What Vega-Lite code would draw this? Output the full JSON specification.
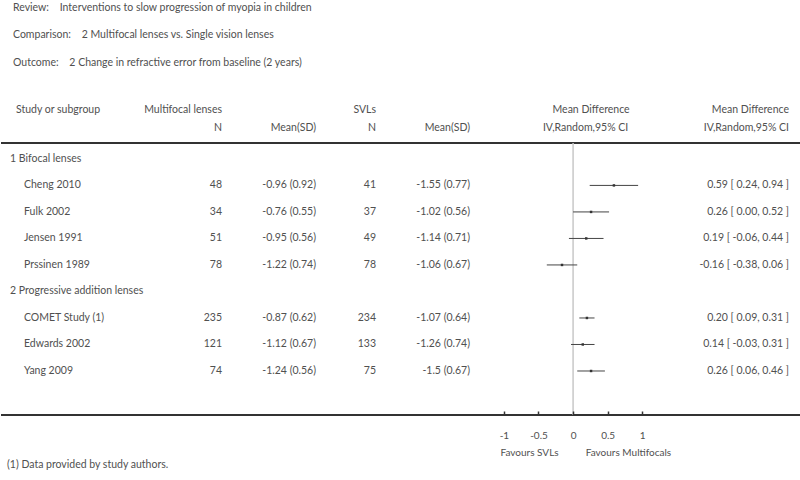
{
  "$schema": "https://vega.github.io/schema/vega-lite/v6.json",
  "background": "white",
  "padding": {"left": 0, "top": 3, "right": 0, "bottom": 0},
  "bounds": "flush",
  "spacing": 0,
  "config": {
    "view": {"stroke": null},
    "text": {"font": "Lato", "fontSize": 10.5, "color": "#505050", "baseline": "middle"},
    "rule": {"color": "#333"}
  },
  "datasets": {
    "t": [
      {"row": 0, "type": "group", "label": "1 Bifocal lenses"},
      {"row": 1, "type": "study", "label": "Cheng 2010", "n1": "48", "m1": "-0.96 (0.92)", "n2": "41", "m2": "-1.55 (0.77)", "md": 0.59, "lo": 0.24, "hi": 0.94, "ci": "0.59 [ 0.24, 0.94 ]"},
      {"row": 2, "type": "study", "label": "Fulk 2002", "n1": "34", "m1": "-0.76 (0.55)", "n2": "37", "m2": "-1.02 (0.56)", "md": 0.26, "lo": 0.0, "hi": 0.52, "ci": "0.26 [ 0.00, 0.52 ]"},
      {"row": 3, "type": "study", "label": "Jensen 1991", "n1": "51", "m1": "-0.95 (0.56)", "n2": "49", "m2": "-1.14 (0.71)", "md": 0.19, "lo": -0.06, "hi": 0.44, "ci": "0.19 [ -0.06, 0.44 ]"},
      {"row": 4, "type": "study", "label": "Prssinen 1989", "n1": "78", "m1": "-1.22 (0.74)", "n2": "78", "m2": "-1.06 (0.67)", "md": -0.16, "lo": -0.38, "hi": 0.06, "ci": "-0.16 [ -0.38, 0.06 ]"},
      {"row": 5, "type": "group", "label": "2 Progressive addition lenses"},
      {"row": 6, "type": "study", "label": "COMET Study (1)", "n1": "235", "m1": "-0.87 (0.62)", "n2": "234", "m2": "-1.07 (0.64)", "md": 0.2, "lo": 0.09, "hi": 0.31, "ci": "0.20 [ 0.09, 0.31 ]"},
      {"row": 7, "type": "study", "label": "Edwards 2002", "n1": "121", "m1": "-1.12 (0.67)", "n2": "133", "m2": "-1.26 (0.74)", "md": 0.14, "lo": -0.03, "hi": 0.31, "ci": "0.14 [ -0.03, 0.31 ]"},
      {"row": 8, "type": "study", "label": "Yang 2009", "n1": "74", "m1": "-1.24 (0.56)", "n2": "75", "m2": "-1.5 (0.67)", "md": 0.26, "lo": 0.06, "hi": 0.46, "ci": "0.26 [ 0.06, 0.46 ]"}
    ]
  },
  "hconcat": [
    {
      "width": 149, "height": 272,
      "data": {"name": "t"},
      "layer": [
        {"transform": [{"filter": "datum.row == 0"}], "mark": {"type": "rule", "strokeWidth": 2}, "encoding": {"x": {"value": 0}, "x2": {"value": "width"}, "y": {"datum": -0.6, "type": "quantitative", "scale": {"domain": [-0.6, 9.66], "nice": false, "zero": false, "reverse": true}, "axis": null}}},
        {"transform": [{"filter": "datum.row == 0"}], "mark": {"type": "rule", "strokeWidth": 2}, "encoding": {"x": {"value": 0}, "x2": {"value": "width"}, "y": {"datum": 9.66, "type": "quantitative", "axis": null}}},
        {"transform": [{"filter": "datum.type == 'group'"}], "mark": {"type": "text", "align": "left", "dx": 9}, "encoding": {"x": {"value": 0}, "y": {"field": "row", "type": "quantitative", "axis": null}, "text": {"field": "label"}}},
        {"transform": [{"filter": "datum.type == 'study'"}], "mark": {"type": "text", "align": "left", "dx": 23}, "encoding": {"x": {"value": 0}, "y": {"field": "row", "type": "quantitative", "axis": null}, "text": {"field": "label"}}},
        {"transform": [{"filter": "datum.row == 0"}], "mark": {"type": "text", "align": "left", "dx": 12, "text": "Review:\u00a0\u00a0\u00a0\u00a0Interventions to slow progression of myopia in children"}, "encoding": {"x": {"value": 0}, "y": {"datum": -5.685, "type": "quantitative", "axis": null}}},
        {"transform": [{"filter": "datum.row == 0"}], "mark": {"type": "text", "align": "left", "dx": 12, "text": "Comparison:\u00a0\u00a0\u00a0\u00a02 Multifocal lenses vs. Single vision lenses"}, "encoding": {"x": {"value": 0}, "y": {"datum": -4.67, "type": "quantitative", "axis": null}}},
        {"transform": [{"filter": "datum.row == 0"}], "mark": {"type": "text", "align": "left", "dx": 12, "text": "Outcome:\u00a0\u00a0\u00a0\u00a02 Change in refractive error from baseline (2 years)"}, "encoding": {"x": {"value": 0}, "y": {"datum": -3.61, "type": "quantitative", "axis": null}}},
        {"transform": [{"filter": "datum.row == 0"}], "mark": {"type": "text", "align": "left", "dx": 15, "text": "Study or subgroup"}, "encoding": {"x": {"value": 0}, "y": {"datum": -1.837, "type": "quantitative", "axis": null}}},
        {"transform": [{"filter": "datum.row == 0"}], "mark": {"type": "text", "align": "left", "dx": 6, "text": "(1) Data provided by study authors."}, "encoding": {"x": {"value": 0}, "y": {"datum": 11.55, "type": "quantitative", "axis": null}}}
      ]
    },
    {
      "width": 72, "height": 272,
      "data": {"name": "t"},
      "layer": [
        {"transform": [{"filter": "datum.row == 0"}], "mark": {"type": "rule", "strokeWidth": 2}, "encoding": {"x": {"value": 0}, "x2": {"value": "width"}, "y": {"datum": -0.6, "type": "quantitative", "scale": {"domain": [-0.6, 9.66], "nice": false, "zero": false, "reverse": true}, "axis": null}}},
        {"transform": [{"filter": "datum.row == 0"}], "mark": {"type": "rule", "strokeWidth": 2}, "encoding": {"x": {"value": 0}, "x2": {"value": "width"}, "y": {"datum": 9.66, "type": "quantitative", "axis": null}}},
        {"transform": [{"filter": "datum.type == 'study'"}], "mark": {"type": "text", "align": "right"}, "encoding": {"x": {"value": "width"}, "y": {"field": "row", "type": "quantitative", "axis": null}, "text": {"field": "n1", "type": "nominal"}}},
        {"transform": [{"filter": "datum.row == 0"}], "mark": {"type": "text", "align": "right", "text": "Multifocal lenses"}, "encoding": {"x": {"value": "width"}, "y": {"datum": -1.837, "type": "quantitative", "axis": null}}},
        {"transform": [{"filter": "datum.row == 0"}], "mark": {"type": "text", "align": "right", "text": "N"}, "encoding": {"x": {"value": "width"}, "y": {"datum": -1.158, "type": "quantitative", "axis": null}}}
      ]
    },
    {
      "width": 94, "height": 272,
      "data": {"name": "t"},
      "layer": [
        {"transform": [{"filter": "datum.row == 0"}], "mark": {"type": "rule", "strokeWidth": 2}, "encoding": {"x": {"value": 0}, "x2": {"value": "width"}, "y": {"datum": -0.6, "type": "quantitative", "scale": {"domain": [-0.6, 9.66], "nice": false, "zero": false, "reverse": true}, "axis": null}}},
        {"transform": [{"filter": "datum.row == 0"}], "mark": {"type": "rule", "strokeWidth": 2}, "encoding": {"x": {"value": 0}, "x2": {"value": "width"}, "y": {"datum": 9.66, "type": "quantitative", "axis": null}}},
        {"transform": [{"filter": "datum.type == 'study'"}], "mark": {"type": "text", "align": "right"}, "encoding": {"x": {"value": "width"}, "y": {"field": "row", "type": "quantitative", "axis": null}, "text": {"field": "m1", "type": "nominal"}}},
        {"transform": [{"filter": "datum.row == 0"}], "mark": {"type": "text", "align": "right", "text": "Mean(SD)"}, "encoding": {"x": {"value": "width"}, "y": {"datum": -1.158, "type": "quantitative", "axis": null}}}
      ]
    },
    {
      "width": 60, "height": 272,
      "data": {"name": "t"},
      "layer": [
        {"transform": [{"filter": "datum.row == 0"}], "mark": {"type": "rule", "strokeWidth": 2}, "encoding": {"x": {"value": 0}, "x2": {"value": "width"}, "y": {"datum": -0.6, "type": "quantitative", "scale": {"domain": [-0.6, 9.66], "nice": false, "zero": false, "reverse": true}, "axis": null}}},
        {"transform": [{"filter": "datum.row == 0"}], "mark": {"type": "rule", "strokeWidth": 2}, "encoding": {"x": {"value": 0}, "x2": {"value": "width"}, "y": {"datum": 9.66, "type": "quantitative", "axis": null}}},
        {"transform": [{"filter": "datum.type == 'study'"}], "mark": {"type": "text", "align": "right"}, "encoding": {"x": {"value": "width"}, "y": {"field": "row", "type": "quantitative", "axis": null}, "text": {"field": "n2", "type": "nominal"}}},
        {"transform": [{"filter": "datum.row == 0"}], "mark": {"type": "text", "align": "right", "text": "SVLs"}, "encoding": {"x": {"value": "width"}, "y": {"datum": -1.837, "type": "quantitative", "axis": null}}},
        {"transform": [{"filter": "datum.row == 0"}], "mark": {"type": "text", "align": "right", "text": "N"}, "encoding": {"x": {"value": "width"}, "y": {"datum": -1.158, "type": "quantitative", "axis": null}}}
      ]
    },
    {
      "width": 94, "height": 272,
      "data": {"name": "t"},
      "layer": [
        {"transform": [{"filter": "datum.row == 0"}], "mark": {"type": "rule", "strokeWidth": 2}, "encoding": {"x": {"value": 0}, "x2": {"value": "width"}, "y": {"datum": -0.6, "type": "quantitative", "scale": {"domain": [-0.6, 9.66], "nice": false, "zero": false, "reverse": true}, "axis": null}}},
        {"transform": [{"filter": "datum.row == 0"}], "mark": {"type": "rule", "strokeWidth": 2}, "encoding": {"x": {"value": 0}, "x2": {"value": "width"}, "y": {"datum": 9.66, "type": "quantitative", "axis": null}}},
        {"transform": [{"filter": "datum.type == 'study'"}], "mark": {"type": "text", "align": "right"}, "encoding": {"x": {"value": "width"}, "y": {"field": "row", "type": "quantitative", "axis": null}, "text": {"field": "m2", "type": "nominal"}}},
        {"transform": [{"filter": "datum.row == 0"}], "mark": {"type": "text", "align": "right", "text": "Mean(SD)"}, "encoding": {"x": {"value": "width"}, "y": {"datum": -1.158, "type": "quantitative", "axis": null}}}
      ]
    },
    {
      "width": 194, "height": 272,
      "data": {"name": "t"},
      "layer": [
        {"transform": [{"filter": "datum.row == 0"}], "mark": {"type": "rule", "strokeWidth": 2}, "encoding": {"x": {"value": 0}, "x2": {"value": "width"}, "y": {"datum": -0.6, "type": "quantitative", "scale": {"domain": [-0.6, 9.66], "nice": false, "zero": false, "reverse": true}, "axis": null}}},
        {"transform": [{"filter": "datum.row == 0"}], "mark": {"type": "rule", "strokeWidth": 2}, "encoding": {"x": {"value": 0}, "x2": {"value": "width"}, "y": {"datum": 9.66, "type": "quantitative", "axis": null}}},
        {"transform": [{"filter": "datum.row == 0"}], "mark": {"type": "rule", "color": "#c8c8c8", "strokeWidth": 1.5}, "encoding": {"x": {"datum": 0, "type": "quantitative", "title": null, "scale": {"domain": [-1.49, 1.314], "nice": false, "zero": false}}, "y": {"datum": -0.6, "type": "quantitative", "axis": null}, "y2": {"datum": 9.66}}},
        {"transform": [{"filter": "datum.type == 'study'"}], "mark": {"type": "rule", "color": "#444", "strokeWidth": 1}, "encoding": {
          "x": {"field": "lo", "type": "quantitative", "title": null,
            "axis": {"orient": "bottom", "offset": -4, "values": [-1, -0.5, 0, 0.5, 1], "labelExpr": "'' + datum.value", "domain": false, "grid": false, "ticks": true, "tickSize": 4, "tickColor": "#333", "tickWidth": 1.5, "labelPadding": 15, "labelFontSize": 10, "labelColor": "#505050", "labelFont": "Lato", "title": null, "zindex": 1}},
          "x2": {"field": "hi"},
          "y": {"field": "row", "type": "quantitative", "axis": null}}},
        {"transform": [{"filter": "datum.type == 'study'"}], "mark": {"type": "square", "color": "#333", "size": 6, "opacity": 1}, "encoding": {"x": {"field": "md", "type": "quantitative", "title": null}, "y": {"field": "row", "type": "quantitative", "axis": null}}},
        {"transform": [{"filter": "datum.row == 0"}], "mark": {"type": "text", "align": "center", "text": "Mean Difference"}, "encoding": {"x": {"datum": 0.26, "type": "quantitative", "title": null}, "y": {"datum": -1.837, "type": "quantitative", "axis": null}}},
        {"transform": [{"filter": "datum.row == 0"}], "mark": {"type": "text", "align": "center", "text": "IV,Random,95% CI"}, "encoding": {"x": {"datum": 0.18, "type": "quantitative", "title": null}, "y": {"datum": -1.158, "type": "quantitative", "axis": null}}},
        {"transform": [{"filter": "datum.row == 0"}], "mark": {"type": "text", "align": "center", "fontSize": 10, "text": "Favours SVLs"}, "encoding": {"x": {"datum": -0.63, "type": "quantitative", "title": null}, "y": {"datum": 11.1, "type": "quantitative", "axis": null}}},
        {"transform": [{"filter": "datum.row == 0"}], "mark": {"type": "text", "align": "center", "fontSize": 10, "text": "Favours Multifocals"}, "encoding": {"x": {"datum": 0.8, "type": "quantitative", "title": null}, "y": {"datum": 11.1, "type": "quantitative", "axis": null}}}
      ]
    },
    {
      "width": 137, "height": 272,
      "data": {"name": "t"},
      "layer": [
        {"transform": [{"filter": "datum.row == 0"}], "mark": {"type": "rule", "strokeWidth": 2}, "encoding": {"x": {"value": 0}, "x2": {"value": "width"}, "y": {"datum": -0.6, "type": "quantitative", "scale": {"domain": [-0.6, 9.66], "nice": false, "zero": false, "reverse": true}, "axis": null}}},
        {"transform": [{"filter": "datum.row == 0"}], "mark": {"type": "rule", "strokeWidth": 2}, "encoding": {"x": {"value": 0}, "x2": {"value": "width"}, "y": {"datum": 9.66, "type": "quantitative", "axis": null}}},
        {"transform": [{"filter": "datum.type == 'study'"}], "mark": {"type": "text", "align": "right", "dx": -12}, "encoding": {"x": {"value": "width"}, "y": {"field": "row", "type": "quantitative", "axis": null}, "text": {"field": "ci", "type": "nominal"}}},
        {"transform": [{"filter": "datum.row == 0"}], "mark": {"type": "text", "align": "right", "dx": -12, "text": "Mean Difference"}, "encoding": {"x": {"value": "width"}, "y": {"datum": -1.837, "type": "quantitative", "axis": null}}},
        {"transform": [{"filter": "datum.row == 0"}], "mark": {"type": "text", "align": "right", "dx": -12, "text": "IV,Random,95% CI"}, "encoding": {"x": {"value": "width"}, "y": {"datum": -1.158, "type": "quantitative", "axis": null}}}
      ]
    }
  ]
}
